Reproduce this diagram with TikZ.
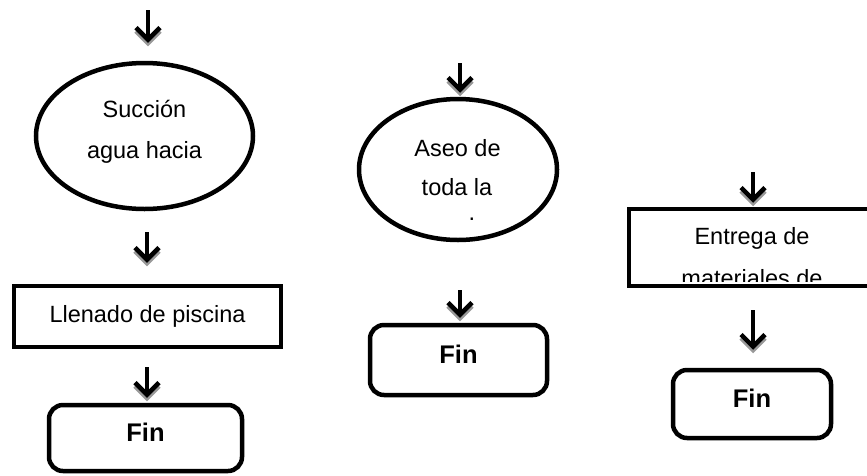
\documentclass[tikz,border=0pt]{standalone}
\usepackage{fontspec}
\setmainfont{Liberation Sans}
\usepackage{tikz}
\usetikzlibrary{arrows.meta, shapes.geometric}

\begin{document}
\begin{tikzpicture}[x=1pt, y=-1pt,
  flecha/.style={line width=4.5pt, -{Straight Barb[length=12pt,width=24pt]},
    preaction={draw=black!40, line width=4.5pt, -{Straight Barb[length=12pt,width=24pt]},
      transform canvas={yshift=-3.5pt}}},
  elipse/.style={ellipse, draw, line width=4.5pt, inner sep=0pt},
  caja/.style={rectangle, draw, line width=4.5pt, inner sep=0pt, font=\fontsize{23.5}{28}\selectfont},
  fin/.style={rectangle, draw, line width=4.5pt, rounded corners=14pt, inner sep=0pt,
    text depth=12pt, font=\fontsize{25.5}{30}\selectfont\bfseries},
  txt/.style={inner sep=0pt, anchor=base, font=\fontsize{23.5}{28}\selectfont}]
  \useasboundingbox (0,0) rectangle (867,475);

  % columna izquierda
  \node[elipse, minimum width=217pt, minimum height=146pt] (succ) at (144.5,136) {};
  \node[txt] (succ1) at (144.5,117) {Succión};
  \node[txt] (succ2) at (144.5,158) {agua hacia};
  \node[caja, minimum width=267pt, minimum height=61pt] (llen) at (147.5,316.5) {Llenado de piscina};
  \node[fin, minimum width=193pt, minimum height=66pt] (fin1) at (145.5,438) {Fin};

  % columna central
  \node[elipse, minimum width=198pt, minimum height=141pt] (aseo) at (458,169.5) {};
  \node[txt] (aseo1) at (457.5,156) {Aseo de};
  \node[txt] (aseo2) at (457,195) {toda la};
  \node[txt] (aseo3) at (472,220) {.};
  \node[fin, minimum width=177pt, minimum height=70pt] (fin2) at (458.5,360) {Fin};

  % columna derecha
  \node[caja, minimum width=248pt, minimum height=77pt] (entr) at (753,247.5) {};
  \begin{scope}
    \clip (629,209) rectangle (877,281);
    \node[txt] (entr1) at (752,244) {Entrega de};
    \node[txt] (entr2) at (752,286) {materiales de};
  \end{scope}
  \node[fin, minimum width=158pt, minimum height=68pt] (fin3) at (752,404) {Fin};

  % flechas
  \coordinate (t1) at (148,10);
  \coordinate (t2) at (147,232);
  \coordinate (t3) at (147,367);
  \coordinate (t4) at (460,63);
  \coordinate (t5) at (460,290);
  \coordinate (t6) at (753,172);
  \coordinate (t7) at (753,310);
  \draw[flecha] (t1) -- ([yshift=18pt]t1 |- succ.north);
  \draw[flecha] (t2) -- ([yshift=21pt]t2 |- llen.north);
  \draw[flecha] (t3) -- ([yshift=5pt]t3 |- fin1.north);
  \draw[flecha] (t4) -- ([yshift=4pt]t4 |- aseo.north);
  \draw[flecha] (t5) -- ([yshift=5pt]t5 |- fin2.north);
  \draw[flecha] (t6) -- ([yshift=4pt]t6 |- entr.north);
  \draw[flecha] (t7) -- ([yshift=18pt]t7 |- fin3.north);
\end{tikzpicture}
\end{document}
